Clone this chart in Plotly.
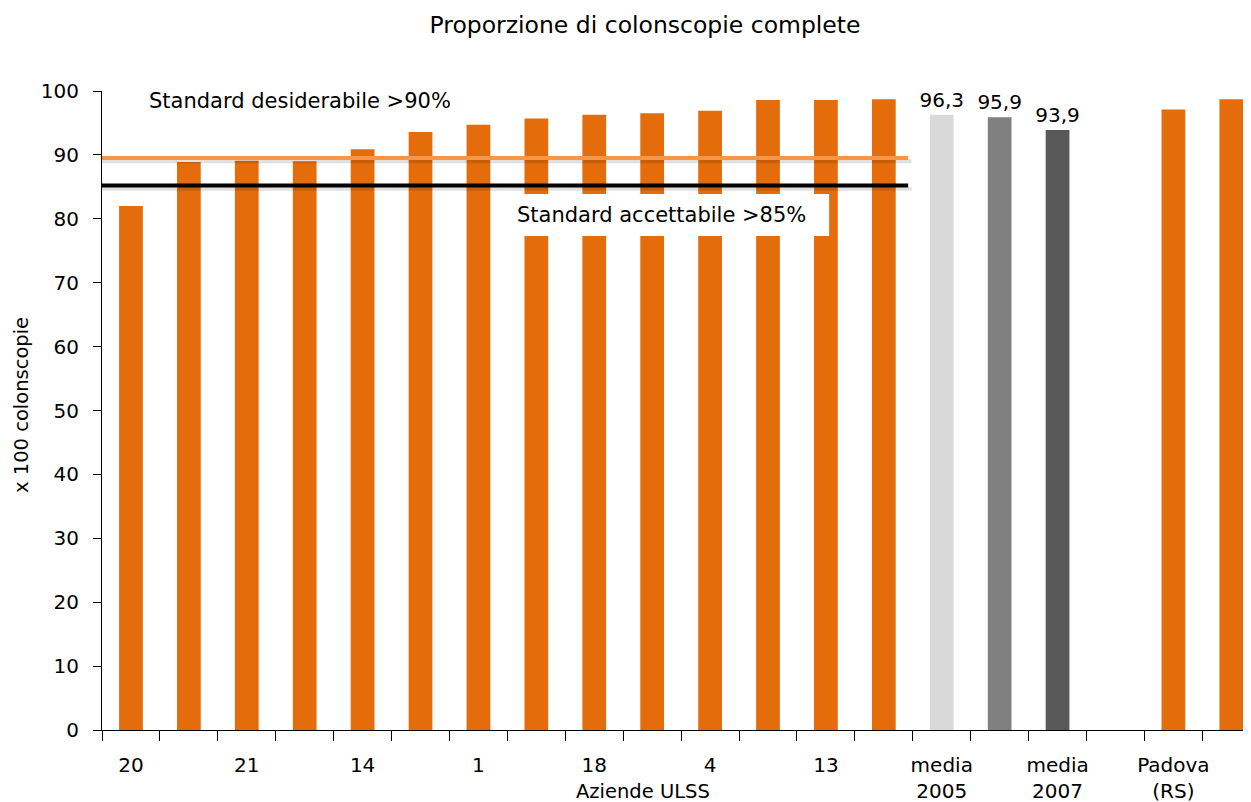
import plotly.graph_objects as go

# ---- data ----
ulss_values = [82.0, 88.9, 89.1, 89.0, 90.9, 93.6, 94.7, 95.7, 96.3, 96.5, 96.9, 98.6, 98.6, 98.7]
media_values = [96.3, 95.9, 93.9]
padova_values = [97.1, 98.7]
tick_labels = ["20", "21", "14", "1", "18", "4", "13", "media<br>2005", "media<br>2007", "Padova<br>(RS)"]
standard_desiderabile = 89.5
standard_accettabile = 85.2

# positions (slots)
n_ulss = len(ulss_values)
x_ulss = list(range(n_ulss))
x_media = list(range(n_ulss, n_ulss + len(media_values)))
x_padova = list(range(n_ulss + len(media_values) + 1, n_ulss + len(media_values) + 1 + len(padova_values)))
n_slots = x_padova[-1] + 1

ORANGE = "#E46C0A"
FONT = "DejaVu Sans"

# page body has an 8px margin, so the figure is sized to fill the rest of the window
W, H = 1243, 794

fig = go.Figure()
fig.add_trace(go.Bar(x=x_ulss, y=ulss_values, width=0.41, marker=dict(color=ORANGE, line=dict(width=0)),
                     hoverinfo="y"))
fig.add_trace(go.Bar(x=x_media, y=media_values, width=0.41,
                     marker=dict(color=["#D9D9D9", "#808080", "#595959"], line=dict(width=0)),
                     texttemplate="%{y:.1f}", textposition="outside", cliponaxis=False,
                     constraintext="none",
                     textfont=dict(size=20, color="#000000", family=FONT)))
fig.add_trace(go.Bar(x=x_padova, y=padova_values, width=0.41, marker=dict(color=ORANGE, line=dict(width=0))))

shapes = []
# standard lines with soft shadow
for level, color in [(standard_desiderabile, "#F79646"), (standard_accettabile, "#000000")]:
    shapes.append(dict(type="line", xref="x", yref="y", x0=-0.52, x1=13.48, y0=level - 0.5, y1=level - 0.5,
                       line=dict(color="rgba(0,0,0,0.12)", width=4), layer="above"))
    shapes.append(dict(type="line", xref="x", yref="y", x0=-0.57, x1=13.42, y0=level, y1=level,
                       line=dict(color=color, width=4), layer="above"))
# white box behind "Standard accettabile"
shapes.append(dict(type="rect", xref="x", yref="y", x0=6.374, x1=12.056, y0=77.3, y1=83.9,
                   fillcolor="white", line=dict(width=0), layer="above"))

annotations = [
    dict(text="Standard desiderabile >90%", xref="x", yref="y", x=0.277, y=98.4, xanchor="left",
         yanchor="middle", showarrow=False, font=dict(size=21, family=FONT, color="#000000")),
    dict(text="Standard accettabile >85%", xref="x", yref="y", x=6.63, y=80.6, xanchor="left",
         yanchor="middle", showarrow=False, font=dict(size=21, family=FONT, color="#000000")),
    dict(text="x 100 colonscopie", xref="paper", yref="paper", x=-0.0705, y=0.5086, textangle=-90,
         xanchor="center", yanchor="middle", showarrow=False, font=dict(size=19.5, family=FONT, color="#000000")),
    dict(text="Aziende ULSS", xref="paper", yref="paper", x=0.4708, y=-0.0955,
         xanchor="center", yanchor="middle", showarrow=False, font=dict(size=19.5, family=FONT, color="#000000")),
]

fig.update_layout(
    width=W, height=H,
    margin=dict(l=94, r=0, t=83, b=72, autoexpand=False),
    paper_bgcolor="white", plot_bgcolor="white",
    barmode="overlay", showlegend=False,
    separators=",.",
    font=dict(family=FONT, size=20, color="#000000"),
    title=dict(text="Proporzione di colonscopie complete", x=637 / W, xanchor="center",
               y=1 - 17 / H, yanchor="middle", yref="container",
               font=dict(size=23.5, family=FONT, color="#000000")),
    shapes=shapes, annotations=annotations,
    xaxis=dict(range=[-0.5, 19.34], tickmode="array", tickvals=list(range(0, n_slots, 2)),
               ticktext=tick_labels, ticks="", showgrid=False, zeroline=False, automargin=False,
               showline=True, linecolor="#000000", linewidth=1, ticklabelstandoff=17,
               tickfont=dict(size=20, family=FONT, color="#000000"),
               minor=dict(tickmode="array", tickvals=[i - 0.5 for i in range(n_slots + 1)],
                          ticks="outside", ticklen=10, tickcolor="#000000", tickwidth=1, showgrid=False)),
    yaxis=dict(range=[0, 100], tickmode="linear", tick0=0, dtick=10, ticks="outside", ticklen=8,
               tickcolor="#000000", showgrid=False, zeroline=False, showline=True, automargin=False,
               linecolor="#000000", linewidth=1, ticklabelstandoff=10,
               tickfont=dict(size=20, family=FONT, color="#000000")),
)

fig.write_html("out.html")
